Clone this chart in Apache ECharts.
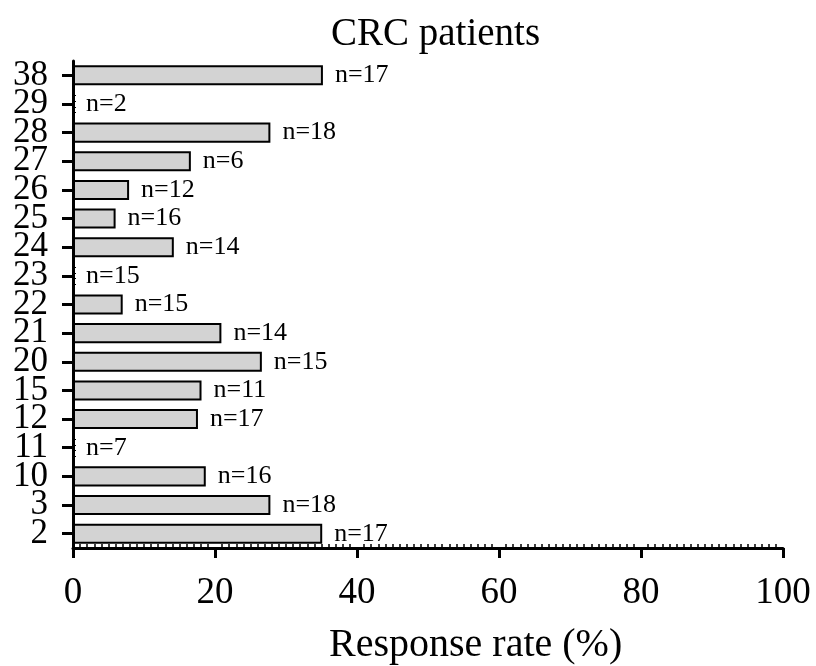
<!DOCTYPE html>
<html>
<head>
<meta charset="utf-8">
<script src="https://cdn.jsdelivr.net/npm/echarts@6/dist/echarts.min.js"></script>
<style>
  html, body { margin: 0; padding: 0; background: #fff; }
  #main { width: 816px; height: 666px; }
</style>
</head>
<body>
<div id="main"></div>
<script>
// categories, bottom to top
const categories = ['2', '3', '10', '11', '12', '15', '20', '21', '22', '23', '24', '25', '26', '27', '28', '29', '38'];
// response rate (%)
const rates = [35.1, 27.8, 18.7, 0, 17.6, 18.1, 26.6, 20.9, 7.0, 0, 14.2, 6.0, 7.9, 16.6, 27.8, 0, 35.2];
// patients per group
const nCounts = [17, 18, 16, 7, 17, 11, 15, 14, 15, 15, 14, 16, 12, 6, 18, 2, 17];
const xTicks = [0, 20, 40, 60, 80, 100];

const FONT = 'Liberation Serif';
const chart = echarts.init(document.getElementById('main'));

chart.setOption({
  animation: false,
  title: [
    {
      text: 'CRC patients',
      left: 326,
      top: 10,
      textStyle: { fontFamily: FONT, fontSize: 39, fontWeight: 'normal', color: '#000' }
    },
    {
      text: 'Response rate (%)',
      left: 324,
      top: 620,
      textStyle: { fontFamily: FONT, fontSize: 40, fontWeight: 'normal', color: '#000' }
    }
  ],
  grid: { left: 73, right: 33, top: 61, bottom: 118 },
  xAxis: [
    {
      type: 'value',
      min: xTicks[0],
      max: xTicks[xTicks.length - 1],
      interval: 20,
      axisLine: { show: true, lineStyle: { color: '#000', width: 3 } },
      axisTick: { show: true, length: 10, lineStyle: { color: '#000', width: 3 } },
      axisLabel: { fontFamily: FONT, fontSize: 37, color: '#000', margin: 27 },
      splitLine: { show: false }
    },
    {
      // minor ticks, pointing inward
      type: 'value',
      position: 'bottom',
      min: 0,
      max: 100,
      interval: 20,
      axisLine: { show: false },
      axisTick: { show: false, inside: true },
      minorTick: { show: true, splitNumber: 20, length: 4, lineStyle: { color: '#000', width: 1.5 } },
      axisLabel: { show: false },
      splitLine: { show: false }
    }
  ],
  yAxis: [
    {
      type: 'category',
      data: categories,
      axisLine: { show: true, lineStyle: { color: '#000', width: 3 } },
      axisTick: { show: true, alignWithLabel: true, length: 11, lineStyle: { color: '#000', width: 3 } },
      axisLabel: { interval: 0, fontFamily: FONT, fontSize: 35, color: '#000', margin: 25 }
    },
    {
      type: 'value',
      position: 'left',
      min: 0,
      max: 17,
      interval: 1,
      axisLine: { show: false },
      axisTick: { show: false, inside: true },
      minorTick: { show: true, splitNumber: 5, length: 3, lineStyle: { color: '#000', width: 1 } },
      axisLabel: { show: false },
      splitLine: { show: false }
    }
  ],
  series: [
    {
      type: 'bar',
      data: rates,
      barCategoryGap: '30%',
      itemStyle: { color: '#d3d3d3', borderColor: '#000', borderWidth: 2 },
      label: {
        show: true,
        position: 'right',
        distance: 12,
        fontFamily: FONT,
        fontSize: 26,
        color: '#000',
        formatter: (p) => 'n=' + nCounts[p.dataIndex]
      }
    }
  ]
});
</script>
</body>
</html>
